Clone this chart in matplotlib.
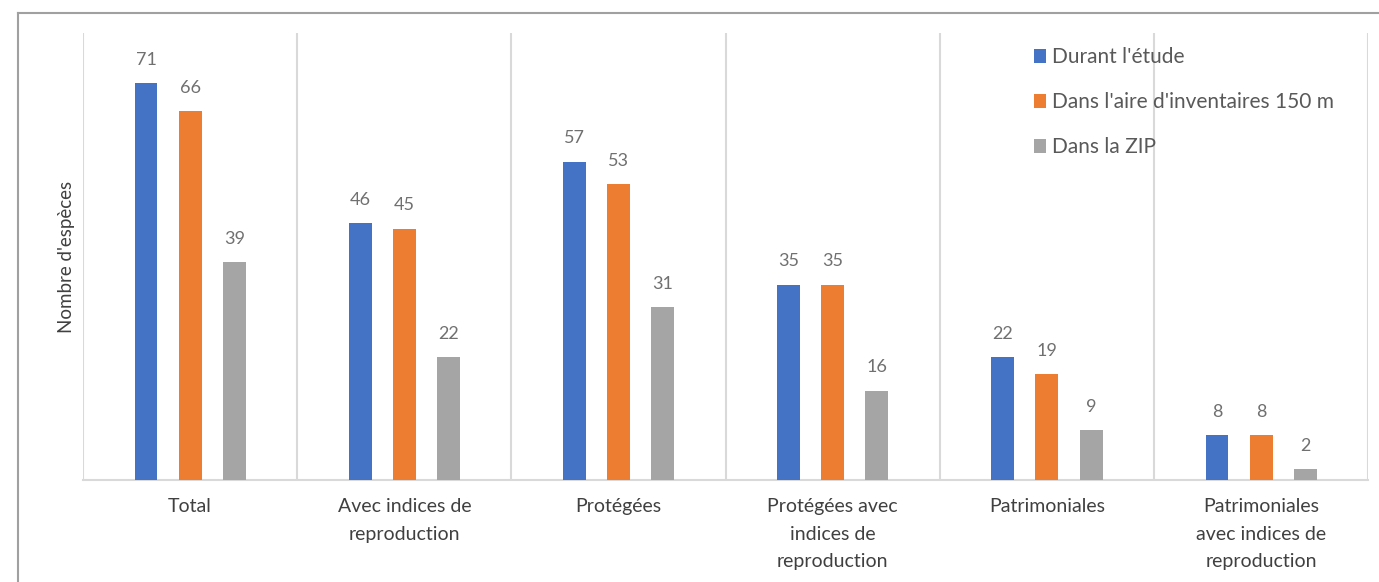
import matplotlib.pyplot as plt
import numpy as np
from matplotlib.lines import Line2D

# données
categories = ['Total', 'Avec indices de\nreproduction', 'Protégées',
              'Protégées avec\nindices de\nreproduction', 'Patrimoniales',
              'Patrimoniales\navec indices de\nreproduction']
series_names = ["Durant l'étude", "Dans l'aire d'inventaires 150 m", "Dans la ZIP"]
durant = [71, 46, 57, 35, 22, 8]
aire_150 = [66, 45, 53, 35, 19, 8]
zip_vals = [39, 22, 31, 16, 9, 2]
colors = ['#4472C4', '#ED7D31', '#A5A5A5']

plt.rcParams['font.family'] = ['Lato', 'DejaVu Sans']

fig = plt.figure(figsize=(13.79, 5.82), dpi=100)
ax = fig.add_axes([0.0602, 0.175, 0.932, 0.768])

x = np.arange(len(categories))
width = 0.107
step = 0.206
for i, (vals, name, c) in enumerate(zip([durant, aire_150, zip_vals], series_names, colors)):
    pos = x + (i - 1) * step
    bars = ax.bar(pos, vals, width, color=c, label=name, zorder=3)
    for b, v in zip(bars, vals):
        ax.annotate(str(v), (b.get_x() + b.get_width() / 2, v), xytext=(0, 11),
                    textcoords='offset points', ha='center', va='bottom',
                    fontsize=13, color='#707070')

ax.set_xlim(-0.5, len(categories) - 0.5)
ax.set_ylim(0, 80)
ax.set_yticks([])
ax.set_xticks(x)
ax.set_xticklabels(categories, fontsize=14, color='#404040', linespacing=1.75)
ax.tick_params(axis='x', length=0, pad=13)

# séparateurs verticaux
for b in np.arange(-0.5, len(categories), 1.0):
    ax.axvline(b, color='#D9D9D9', lw=1.5, zorder=1)

for s in ['top', 'right', 'left']:
    ax.spines[s].set_visible(False)
ax.spines['bottom'].set_color('#D9D9D9')
ax.spines['bottom'].set_linewidth(1.5)

ax.set_ylabel("Nombre d'espèces", fontsize=13.5, color='#404040', labelpad=6)

ax.legend(loc='upper left', bbox_to_anchor=(0.725, 1.01), frameon=False,
          fontsize=15, labelcolor='#595959', handlelength=0.6, handleheight=0.7,
          handletextpad=0.3, labelspacing=1.2)

# cadre
fig.add_artist(Line2D([0.013, 1.0], [0.978, 0.978], color='#A0A0A0', lw=1.5))
fig.add_artist(Line2D([0.013, 0.013], [0.0, 0.978], color='#A0A0A0', lw=1.5))

fig.savefig('out.png', dpi=100)
